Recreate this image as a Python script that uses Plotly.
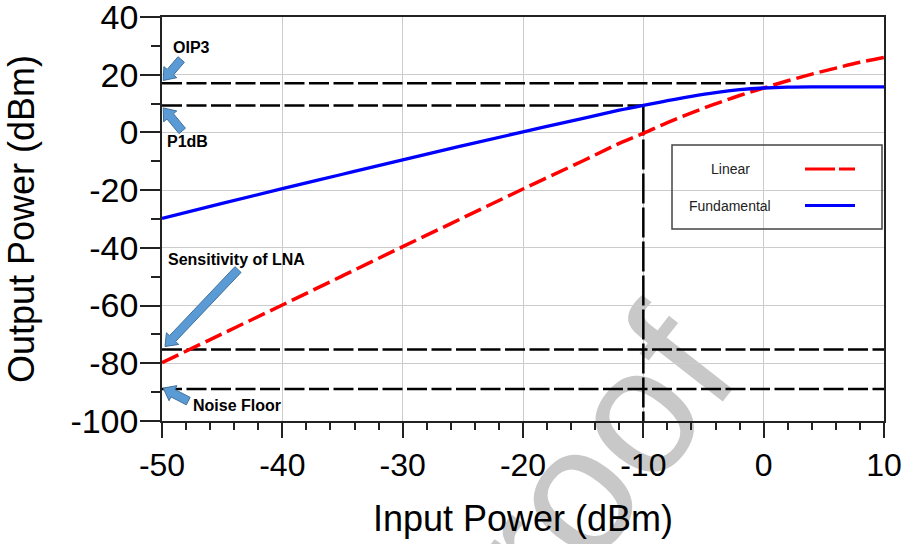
import math
import plotly.graph_objects as go

# ---------------- data ----------------
input_power = [-50, -45, -40, -35, -30, -25, -20, -15, -12, -10, -8, -6, -4, -2, 0, 2, 4, 6, 8, 10]
linear_out = [-79.8, -69.8, -59.8, -49.7, -39.6, -29.6, -19.6, -9.8, -3.8, -0.3, 3.4, 6.8, 9.9, 12.8, 15.4, 17.9, 20.2, 22.3, 24.3, 26.0]
fundamental_out = [-29.8, -24.6, -19.5, -14.5, -9.5, -4.6, 0.2, 4.9, 7.7, 9.4, 11.0, 12.5, 13.8, 14.8, 15.4, 15.7, 15.8, 15.8, 15.8, 15.8]

oip3_level = 17.0
oip3_input = 0.0
p1db_level = 9.3
p1db_input = -10.0
sensitivity_level = -75.2
noise_floor_level = -88.9

x_ticks = [-50, -40, -30, -20, -10, 0, 10]
y_ticks = [-100, -80, -60, -40, -20, 0, 20, 40]

XMIN, XMAX = -50, 10
YMIN, YMAX = -100, 40

# ---------------- layout geometry ----------------
W, H = 907, 544
L, R, T, B = 162, 884, 17, 421
FONT = "Liberation Sans, Arial, sans-serif"


def px2paper(px, py):
    return (px - L) / (R - L), 1 - (py - T) / (B - T)


def data2px(x, y):
    return (L + (x - XMIN) / (XMAX - XMIN) * (R - L),
            T + (YMAX - y) / (YMAX - YMIN) * (B - T))


fig = go.Figure()

# reference level lines (black dashed)
blk = dict(color="black", width=2.5, dash="20px,4.5px")
fig.add_trace(go.Scatter(x=[XMIN, oip3_input], y=[oip3_level, oip3_level], mode="lines",
                         line=blk, showlegend=False, hoverinfo="skip"))
fig.add_trace(go.Scatter(x=[XMIN, p1db_input], y=[p1db_level, p1db_level], mode="lines",
                         line=blk, showlegend=False, hoverinfo="skip"))
fig.add_trace(go.Scatter(x=[p1db_input, p1db_input], y=[p1db_level, YMIN], mode="lines",
                         line=dict(color="black", width=2.5, dash="30px,4px"),
                         showlegend=False, hoverinfo="skip"))
fig.add_trace(go.Scatter(x=[XMIN, XMAX], y=[sensitivity_level, sensitivity_level], mode="lines",
                         line=blk, showlegend=False, hoverinfo="skip"))
fig.add_trace(go.Scatter(x=[XMIN, XMAX], y=[noise_floor_level, noise_floor_level], mode="lines",
                         line=blk, showlegend=False, hoverinfo="skip"))

# curves
fig.add_trace(go.Scatter(x=input_power, y=linear_out, mode="lines", name="Linear",
                         line=dict(color="#ff0000", width=3.5, dash="18px,6px", shape="spline"),
                         showlegend=False))
fig.add_trace(go.Scatter(x=input_power, y=fundamental_out, mode="lines", name="Fundamental",
                         line=dict(color="#0000ff", width=3.3, shape="spline"),
                         showlegend=False))

shapes = []
annotations = []

# ---------------- block arrows ----------------
def block_arrow(tip_px, tail_px, w=4.2, hw=8.5, hl=11):
    tx, ty = tip_px
    sx, sy = tail_px
    dx, dy = tx - sx, ty - sy
    n = math.hypot(dx, dy)
    ux, uy = dx / n, dy / n
    nx, ny = -uy, ux
    bx, by = tx - ux * hl, ty - uy * hl
    pts = [(sx + nx * w, sy + ny * w), (bx + nx * w, by + ny * w), (bx + nx * hw, by + ny * hw),
           (tx, ty), (bx - nx * hw, by - ny * hw), (bx - nx * w, by - ny * w),
           (sx - nx * w, sy - ny * w)]
    path = "M " + " L ".join("%.5f,%.5f" % px2paper(*p) for p in pts) + " Z"
    return dict(type="path", xref="paper", yref="paper", path=path,
                fillcolor="#5b9bd5", line=dict(color="#41719c", width=1), layer="above")


arrows = [
    # (tip in data coords, tail offset in px)
    ((XMIN + 0.1, oip3_level + 1.0), (18, -21)),
    ((XMIN + 0.1, p1db_level - 0.8), (19, 23)),
    ((XMIN + 0.25, sensitivity_level + 1.0), (73, -77)),
    ((XMIN + 0.1, noise_floor_level + 0.3), (25, 13)),
]
for (tx, ty), (ox, oy) in arrows:
    tip = data2px(tx, ty)
    shapes.append(block_arrow(tip, (tip[0] + ox, tip[1] + oy)))

# ---------------- arrow labels ----------------
labels = [("OIP3", 191, 48), ("P1dB", 187, 141), ("Sensitivity of LNA", 236, 259),
          ("Noise Floor", 237, 405)]
for txt, px, py in labels:
    xp, yp = px2paper(px, py)
    annotations.append(dict(text="<b>%s</b>" % txt, x=xp, y=yp, xref="paper", yref="paper",
                            xanchor="center", yanchor="middle", showarrow=False,
                            font=dict(family=FONT, size=16, color="black")))

# ---------------- custom legend (text left, sample right) ----------------
x0, y0 = px2paper(672, 145)
x1, y1 = px2paper(882, 229)
shapes.append(dict(type="rect", xref="paper", yref="paper", x0=x0, y0=y0, x1=x1, y1=y1,
                   line=dict(color="#444444", width=1.5), fillcolor="rgba(0,0,0,0)", layer="above"))
legend_items = [("Linear", 169, dict(color="#ff0000", width=3, dash="30px,4px")),
                ("Fundamental", 205.5, dict(color="#0000ff", width=3))]
for txt, py, ln in legend_items:
    xp, yp = px2paper(730, py)
    annotations.append(dict(text=txt, x=xp, y=yp, xref="paper", yref="paper",
                            xanchor="center", yanchor="middle", showarrow=False,
                            font=dict(family=FONT, size=14, color="#222222")))
    a = px2paper(805, py)
    b = px2paper(855, py)
    shapes.append(dict(type="line", xref="paper", yref="paper", x0=a[0], y0=a[1], x1=b[0], y1=b[1],
                       line=ln, layer="above"))

# ---------------- watermark ----------------
c = (628, 560)
ang = math.radians(52)
p0 = px2paper(c[0] - 100 * math.cos(ang), c[1] + 100 * math.sin(ang))
p1 = px2paper(c[0] + 100 * math.cos(ang), c[1] - 100 * math.sin(ang))
shapes.append(dict(type="line", xref="paper", yref="paper", x0=p0[0], y0=p0[1], x1=p1[0], y1=p1[1],
                   line=dict(color="rgba(0,0,0,0)", width=1), layer="below",
                   label=dict(text="Proof", textangle=-52, textposition="middle",
                              font=dict(family=FONT, size=180, color="#c8c8c8"))))

fig.update_layout(
    width=W, height=H,
    margin=dict(l=L, r=W - R, t=T, b=H - B, autoexpand=False),
    paper_bgcolor="white", plot_bgcolor="rgba(0,0,0,0)",
    font=dict(family=FONT, color="black"),
    shapes=shapes, annotations=annotations, showlegend=False,
)
fig.update_xaxes(
    range=[XMIN, XMAX], tickvals=x_ticks, ticktext=[str(v) for v in x_ticks],
    showgrid=True, gridcolor="#cccccc", gridwidth=1, zeroline=False,
    showline=True, linecolor="#222222", linewidth=1.5, mirror=True,
    ticks="outside", ticklen=15, tickwidth=1.5, tickcolor="#222222",
    tickfont=dict(family=FONT, size=32), ticklabeloverflow="allow",
    minor=dict(dtick=2, tick0=XMIN, ticks="outside", ticklen=7, tickwidth=1.5, tickcolor="#222222", showgrid=False),
    title=dict(text="Input Power (dBm)", font=dict(family=FONT, size=36), standoff=24),
)
fig.update_yaxes(
    range=[YMIN, YMAX], tickvals=y_ticks, ticktext=[str(v) for v in y_ticks],
    showgrid=True, gridcolor="#cccccc", gridwidth=1, zeroline=False,
    showline=True, linecolor="#222222", linewidth=1.5, mirror=True,
    ticks="outside", ticklen=20, tickwidth=1.5, tickcolor="#222222",
    tickfont=dict(family=FONT, size=34), ticklabeloverflow="allow", ticklabelstandoff=-5,
    minor=dict(dtick=10, tick0=YMIN, ticks="outside", ticklen=9, tickwidth=1.5, tickcolor="#222222", showgrid=False),
    title=dict(text="Output Power (dBm)", font=dict(family=FONT, size=36), standoff=25),
)

fig.write_html("out.html")
